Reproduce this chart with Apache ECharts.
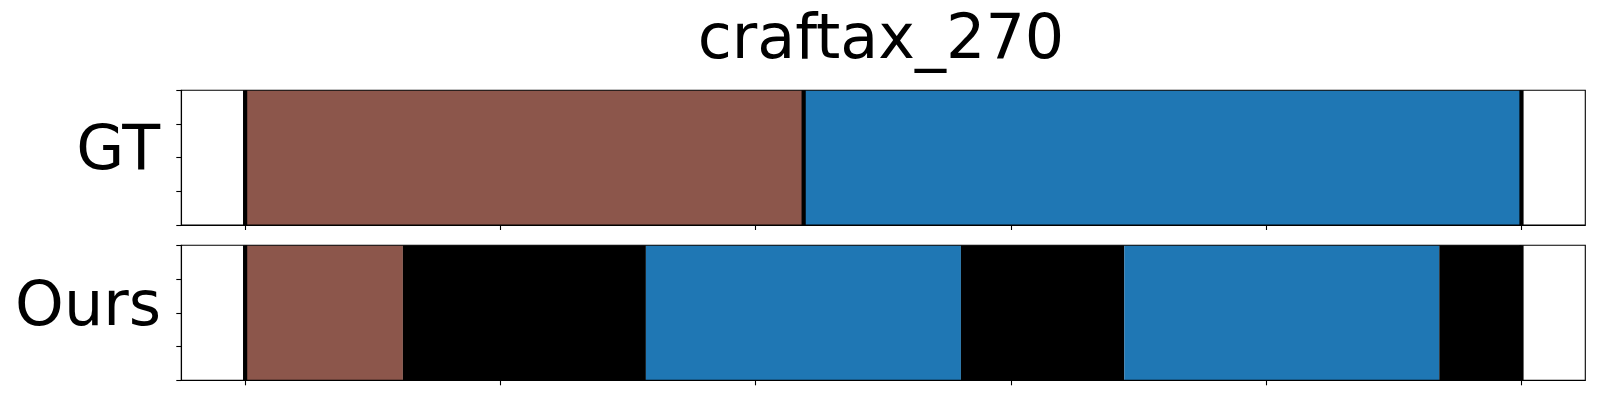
<!DOCTYPE html>
<html>
<head>
<meta charset="utf-8">
<script src="https://cdn.jsdelivr.net/npm/echarts@6/dist/echarts.min.js"></script>
<style>html,body{margin:0;padding:0;background:#fff}#c{width:1600px;height:400px}</style>
</head>
<body>
<div id="c"></div>
<script>
// ---- data ----
const titleText = 'craftax_270';
const rowLabels = ['GT', 'Ours'];
const totalFrames = 250;
const xTicks = [0, 50, 100, 150, 200, 250];
const yTicks = [0, 0.25, 0.5, 0.75, 1];
const classColors = { brown: '#8c564b', blue: '#1f77b4', black: '#000000' };
// segments: [start, end, class]
const gtSegments = [[0, 109.4, 'brown'], [109.4, 250, 'blue']];
const oursSegments = [[0, 30.9, 'brown'], [30.9, 78.5, 'black'], [78.5, 140.2, 'blue'],
                      [140.2, 172.2, 'black'], [172.2, 233.9, 'blue'], [233.9, 250, 'black']];
const gtBoundaries = [0, 109.4, 250];
const oursBoundaries = [0, 250];

const chart = echarts.init(document.getElementById('c'), null, { renderer: 'canvas' });
const margin = totalFrames * 0.05;

const grids = [
  { left: 181.3, top: 90.3, width: 1404, height: 134.7 },
  { left: 181.3, top: 245.3, width: 1404, height: 135 }
].map(g => Object.assign(g, { show: true, borderColor: '#000', borderWidth: 1.1, backgroundColor: 'transparent', z: 10 }));

function xAx(i) {
  return {
    gridIndex: i, type: 'value', min: -margin, max: totalFrames + margin, z: 10,
    axisLine: { show: true, onZero: false, lineStyle: { color: '#000', width: 1.1 } },
    axisTick: { show: true, inside: false, length: 5, customValues: xTicks, lineStyle: { color: '#000', width: 1.1 } },
    axisLabel: { show: false }, splitLine: { show: false }
  };
}
function yAx(i) {
  return {
    gridIndex: i, type: 'value', min: yTicks[0], max: yTicks[yTicks.length - 1], interval: 0.25, z: 10,
    axisLine: { show: true, onZero: false, lineStyle: { color: '#000', width: 1.1 } },
    axisTick: { show: true, inside: false, length: 5, customValues: yTicks, lineStyle: { color: '#000', width: 1.1 } },
    axisLabel: { show: false }, splitLine: { show: false }
  };
}

function segSeries(i, segs) {
  return {
    type: 'custom', xAxisIndex: i, yAxisIndex: i, z: 2,
    data: segs.map(s => [s[0], s[1], s[2]]),
    renderItem: function (params, api) {
      const s = segs[params.dataIndex];
      const p0 = api.coord([s[0], 1]);
      const p1 = api.coord([s[1], 0]);
      return { type: 'rect', shape: { x: p0[0], y: p0[1], width: p1[0] - p0[0], height: p1[1] - p0[1] },
               style: { fill: classColors[s[2]] } };
    },
    silent: true, animation: false
  };
}
function lineSeries(i, xs) {
  return {
    type: 'custom', xAxisIndex: i, yAxisIndex: i, z: 3,
    data: xs.map(x => [x]),
    renderItem: function (params, api) {
      const x = xs[params.dataIndex];
      const a = api.coord([x, 1]);
      const b = api.coord([x, 0]);
      return { type: 'line', shape: { x1: a[0], y1: a[1], x2: b[0], y2: b[1] },
               style: { stroke: '#000', lineWidth: 4.2 } };
    },
    silent: true, animation: false
  };
}

chart.setOption({
  animation: false,
  backgroundColor: '#fff',
  grid: grids,
  xAxis: [xAx(0), xAx(1)],
  yAxis: [yAx(0), yAx(1)],
  series: [segSeries(0, gtSegments), lineSeries(0, gtBoundaries),
           segSeries(1, oursSegments), lineSeries(1, oursBoundaries)],
  graphic: [
    { type: 'text', x: 881, y: 42, style: { text: titleText, font: '62px "DejaVu Sans"', fill: '#000', align: 'center', verticalAlign: 'middle' } },
    { type: 'text', x: 160, y: 153, style: { text: rowLabels[0], font: '62px "DejaVu Sans"', fill: '#000', align: 'right', verticalAlign: 'middle' } },
    { type: 'text', x: 161, y: 309, style: { text: rowLabels[1], font: '62px "DejaVu Sans"', fill: '#000', align: 'right', verticalAlign: 'middle' } }
  ]
});
</script>
</body>
</html>
